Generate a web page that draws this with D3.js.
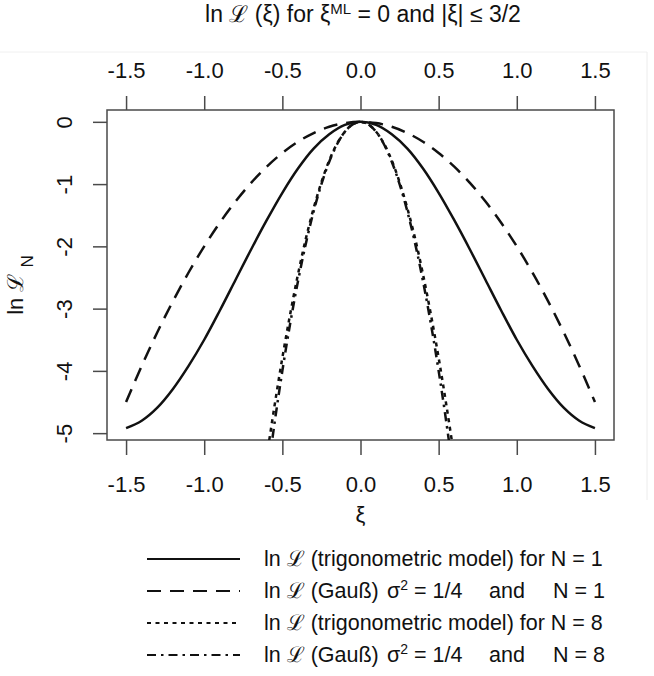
<!DOCTYPE html>
<html>
<head>
<meta charset="utf-8">
<script src="https://cdn.jsdelivr.net/npm/d3@7"></script>
<style>
  body { margin: 0; background: #fff; }
  text { font-family: "Liberation Sans", Arial, Helvetica, sans-serif; fill: #111; }
</style>
</head>
<body>
<script>
// xi grid for the N = 1 curves and for the N = 8 curves
var xiWide = [-1.5, -1.4, -1.3, -1.2, -1.1, -1.0, -0.9, -0.8, -0.7, -0.6, -0.5, -0.4, -0.3, -0.2, -0.1,
              0, 0.1, 0.2, 0.3, 0.4, 0.5, 0.6, 0.7, 0.8, 0.9, 1.0, 1.1, 1.2, 1.3, 1.4, 1.5];
var xiNarrow = [-0.6, -0.55, -0.5, -0.45, -0.4, -0.35, -0.3, -0.25, -0.2, -0.15, -0.1, -0.05,
                0, 0.05, 0.1, 0.15, 0.2, 0.25, 0.3, 0.35, 0.4, 0.45, 0.5, 0.55, 0.6];

// ln L values
var trigN1 = [-4.92, -4.8, -4.59, -4.29, -3.92, -3.5, -3.03, -2.54, -2.05, -1.58, -1.14, -0.75, -0.43, -0.2, -0.05,
              0, -0.05, -0.2, -0.43, -0.75, -1.14, -1.58, -2.05, -2.54, -3.03, -3.5, -3.92, -4.29, -4.59, -4.8, -4.92];
var gaussN1 = [-4.5, -3.92, -3.38, -2.88, -2.42, -2.0, -1.62, -1.28, -0.98, -0.72, -0.5, -0.32, -0.18, -0.08, -0.02,
               0, -0.02, -0.08, -0.18, -0.32, -0.5, -0.72, -0.98, -1.28, -1.62, -2.0, -2.42, -2.88, -3.38, -3.92, -4.5];
var trigN8 = [-5.38, -4.56, -3.79, -3.09, -2.45, -1.88, -1.39, -0.97, -0.62, -0.35, -0.16, -0.04,
              0, -0.04, -0.16, -0.35, -0.62, -0.97, -1.39, -1.88, -2.45, -3.09, -3.79, -4.56, -5.38];
var gaussN8 = [-5.76, -4.84, -4.0, -3.24, -2.56, -1.96, -1.44, -1.0, -0.64, -0.36, -0.16, -0.04,
               0, -0.04, -0.16, -0.36, -0.64, -1.0, -1.44, -1.96, -2.56, -3.24, -4.0, -4.84, -5.76];

var xTicks = [-1.5, -1.0, -0.5, 0.0, 0.5, 1.0, 1.5];
var yTicks = [0, -1, -2, -3, -4, -5];

var width = 654, height = 676;

var svg = d3.select("body").append("svg")
    .attr("width", width)
    .attr("height", height);

// plot region
var x = d3.scaleLinear().domain([-1.622, 1.622]).range([107, 614]);
var y = d3.scaleLinear().domain([-5.11, 0.19]).range([440, 110]);

// faint frame lines of the original screenshot
svg.append("line").attr("x1", 0).attr("x2", 647).attr("y1", 52).attr("y2", 52)
    .attr("stroke", "#f0f0f0").attr("stroke-width", 1);
svg.append("line").attr("x1", 647).attr("x2", 647).attr("y1", 52).attr("y2", 500)
    .attr("stroke", "#ececec").attr("stroke-width", 1);

svg.append("defs").append("clipPath").attr("id", "plotclip")
  .append("rect")
    .attr("x", x.range()[0]).attr("y", y.range()[1])
    .attr("width", x.range()[1] - x.range()[0])
    .attr("height", y.range()[0] - y.range()[1]);

// R prints a plain hyphen for negatives
function hyph(fmt) {
  var f = d3.format(fmt);
  return function(d) { return f(d).replace("\u2212", "-"); };
}

// axes (R style, ticks outside)
var axisColor = "#4a4a4a";
function styleAxis(g) {
  g.select(".domain").remove();
  g.selectAll(".tick line").attr("stroke", axisColor).attr("stroke-width", 1.5);
  g.selectAll(".tick text").style("font-size", "22px").attr("fill", "#111");
}

svg.append("g")
    .attr("transform", "translate(0," + y.range()[0] + ")")
    .call(d3.axisBottom(x).tickValues(xTicks).tickFormat(hyph(".1f")).tickSize(15).tickPadding(21))
    .call(styleAxis);

svg.append("g")
    .attr("transform", "translate(0," + y.range()[1] + ")")
    .call(d3.axisTop(x).tickValues(xTicks).tickFormat(hyph(".1f")).tickSize(14).tickPadding(18))
    .call(styleAxis);

var yAxis = svg.append("g")
    .attr("transform", "translate(" + x.range()[0] + ",0)")
    .call(d3.axisLeft(y).tickValues(yTicks).tickFormat(hyph("d")).tickSize(14))
    .call(styleAxis);
yAxis.selectAll(".tick text")
    .attr("x", null).attr("dy", null)
    .attr("text-anchor", "middle")
    .attr("transform", "translate(-35,0) rotate(-90)");

// box
svg.append("rect")
    .attr("x", x.range()[0]).attr("y", y.range()[1])
    .attr("width", x.range()[1] - x.range()[0])
    .attr("height", y.range()[0] - y.range()[1])
    .attr("fill", "none").attr("stroke", axisColor).attr("stroke-width", 1.5);

// curves
var series = [
  {xi: xiWide,   v: trigN1,  dash: null},
  {xi: xiWide,   v: gaussN1, dash: "14,9"},
  {xi: xiNarrow, v: trigN8,  dash: "4,4.5"},
  {xi: xiNarrow, v: gaussN8, dash: "9,5,2.5,5"}
];

var line = d3.line()
    .x(function(d) { return x(d[0]); })
    .y(function(d) { return y(d[1]); })
    .curve(d3.curveCatmullRom);

var curves = svg.append("g").attr("clip-path", "url(#plotclip)");
series.forEach(function(s) {
  curves.append("path")
      .datum(d3.zip(s.xi, s.v))
      .attr("d", line)
      .attr("fill", "none")
      .attr("stroke", "#111")
      .attr("stroke-width", 2.5)
      .attr("stroke-dasharray", s.dash);
});

// title
var title = svg.append("text")
    .attr("x", 363).attr("y", 22)
    .attr("text-anchor", "middle")
    .style("font-size", "23px");
title.append("tspan").text("ln \u2112 (\u03BE) for \u03BE");
title.append("tspan").attr("baseline-shift", "super").style("font-size", "15px").text("ML");
title.append("tspan").text(" = 0 and |\u03BE| \u2264 3/2");

// axis titles
svg.append("text")
    .attr("x", x(0)).attr("y", 522)
    .attr("text-anchor", "middle")
    .style("font-size", "22px")
    .text("\u03BE");

var yTitle = svg.append("text")
    .attr("transform", "translate(23,285) rotate(-90)")
    .attr("text-anchor", "middle")
    .style("font-size", "22px");
yTitle.append("tspan").text("ln \u2112 ");
yTitle.append("tspan").attr("baseline-shift", "sub").style("font-size", "17px").text("N");

// legend
var legendRows = [
  {dash: null,        y: 566},
  {dash: "14,9",      y: 598},
  {dash: "4,4.5",     y: 630},
  {dash: "9,5,2.5,5", y: 662}
];

var legend = svg.append("g");
legendRows.forEach(function(r, i) {
  legend.append("line")
      .attr("x1", 147).attr("x2", 240)
      .attr("y1", r.y - 7).attr("y2", r.y - 7)
      .attr("stroke", "#111").attr("stroke-width", 2.2)
      .attr("stroke-dasharray", r.dash);

  var t = legend.append("text").attr("x", 264).attr("y", r.y).style("font-size", "21.5px");
  if (i % 2 === 0) {
    t.text("ln \u2112 (trigonometric model) for N = " + (i === 0 ? "1" : "8"));
  } else {
    t.append("tspan").text("ln \u2112 (Gau\u00DF)");
    t.append("tspan").attr("x", 387).text("\u03C3");
    t.append("tspan").attr("baseline-shift", "super").style("font-size", "14px").text("2");
    t.append("tspan").text(" = 1/4");
    t.append("tspan").attr("x", 489).text("and");
    t.append("tspan").attr("x", 553).text("N = " + (i === 1 ? "1" : "8"));
  }
});
</script>
</body>
</html>
